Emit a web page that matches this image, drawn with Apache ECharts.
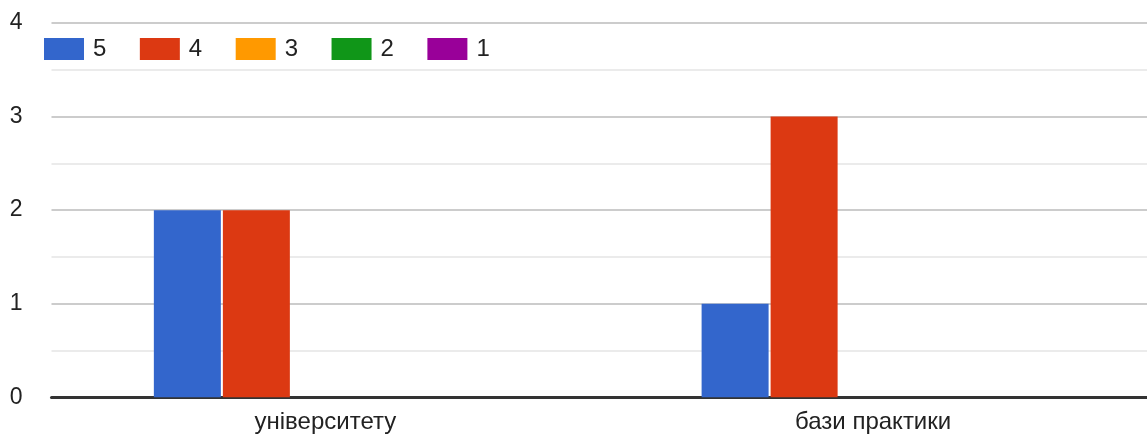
<!DOCTYPE html>
<html>
<head>
<meta charset="utf-8">
<script src="https://cdn.jsdelivr.net/npm/echarts@6/dist/echarts.min.js"></script>
<style>
html,body{margin:0;padding:0;background:#fff;}
#chart{width:1147px;height:439px;}
</style>
</head>
<body>
<div id="chart"></div>
<script>
const categories = ['університету', 'бази практики'];
const seriesNames = ['5', '4', '3', '2', '1'];
const values5 = [2, 1];
const values4 = [2, 3];
const values3 = [0, 0];
const values2 = [0, 0];
const values1 = [0, 0];
const colors = ['#3366cc', '#dc3912', '#ff9900', '#109618', '#990099'];
const allValues = [values5, values4, values3, values2, values1];

const chart = echarts.init(document.getElementById('chart'), null, {renderer: 'canvas'});
const font = 'Arial, "Liberation Sans", sans-serif';
chart.setOption({
  animation: false,
  color: colors,
  textStyle: {fontFamily: font},
  legend: {
    left: 44, top: 37, padding: 0,
    itemWidth: 40, itemHeight: 22, itemGap: 33.5,
    icon: 'rect',
    textStyle: {fontSize: 24, color: '#222', fontFamily: font, padding: [0, 0, 0, 4]},
    data: seriesNames
  },
  grid: {left: 51.5, top: 23, width: 1102, bottom: 41.7, containLabel: false},
  xAxis: {
    type: 'category',
    data: categories,
    axisLine: {show: true, lineStyle: {color: '#333', width: 3}},
    axisTick: {show: false},
    axisLabel: {fontSize: 24, color: '#222', margin: 13, fontFamily: font},
    splitLine: {show: false}
  },
  yAxis: {
    type: 'value',
    min: 0, max: 4, interval: 1,
    axisLine: {show: false},
    axisTick: {show: false},
    axisLabel: {fontSize: 23, color: '#222', margin: 29, fontFamily: font},
    splitLine: {show: true, lineStyle: {color: '#cccccc', width: 2}},
    minorTick: {show: false, splitNumber: 2},
    minorSplitLine: {show: true, lineStyle: {color: '#ebebeb', width: 2}}
  },
  series: seriesNames.map((n, i) => ({
    name: n,
    type: 'bar',
    data: allValues[i],
    barWidth: 67,
    barGap: '3%',
    itemStyle: {color: colors[i]}
  }))
});
</script>
</body>
</html>
